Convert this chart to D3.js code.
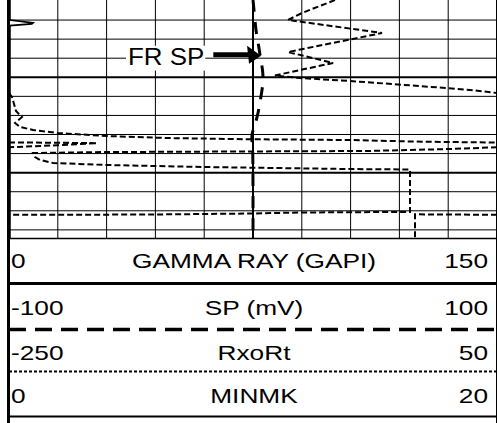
<!DOCTYPE html>
<html><head><meta charset="utf-8">
<script src="https://cdn.jsdelivr.net/npm/d3@7"></script>
<style>html,body{margin:0;padding:0;background:#fff;} svg{display:block}</style>
</head><body>
<svg id="chart" width="497" height="423"></svg>
<script>
// ---------------- data ----------------
const depthTop = 5002, depthBottom = 5026.9;
const minorDepths = [5004, 5006, 5008, 5012, 5014, 5016, 5018, 5022, 5024, 5026];
const majorDepths = [5010, 5020];
const gridCols = [1, 2, 3, 4, 6, 7, 8, 9];

// SP (mV), scale -100..100
const spDepth = [5001.90, 5002.95, 5005.04, 5006.62, 5007.98, 5009.24, 5010.29, 5011.33, 5012.59, 5013.75, 5014.79, 5016.05, 5017.63, 5026.95];
const spValue = [0.0, 0.41, 1.23, 2.25, 3.07, 3.89, 4.10, 3.69, 2.87, 2.05, 1.02, -0.41, -0.12, 0.0];

// GAMMA RAY (GAPI), scale 0..150
const grDepth = [5001.9, 5004.0, 5004.30, 5004.40, 5004.58, 5026.95];
const grValue = [0.3, 0.3, 7.4, 7.0, 0.3, 0.3];

// RxoRt, scale -250..50 (values beyond the scale wrap around, backup style)
const rxoDepth = [5001.90, 5003.26, 5003.99, 5005.36, 5007.35, 5008.50, 5009.81, 5010.08, 5010.39, 5010.92, 5011.33, 5011.65,
  5012.07, 5012.80, 5013.54, 5014.17, 5014.79, 5015.21, 5015.53, 5015.84, 5016.16, 5016.37, 5016.50, 5016.58, 5016.76, 5016.84,
  5016.86, 5016.91, 5017.13, 5017.34,
  5017.52, 5017.73, 5017.78, 5017.84, 5017.94, 5018.36, 5018.67, 5018.99, 5019.20, 5019.41, 5019.51, 5019.62, 5019.67, 5024.13,
  5024.13, 5024.18, 5024.29, 5024.39, 5024.42, 5024.42,
  5024.37, 5027.0];
const rxoValue = [-49.6, -69.9, -78.5, -20.7, -78.5, -50.8, -86.5, -71.1, -40.4, 2.7, 33.4, 50,
  51.8, 53.1, 54.3, 58.0, 53.7, 56.8, 64.8, 79.5, 110.2, 147.1, 198.2, 259.6, 304.5, 350,
  379.5, 404.1, 379.5, 350,
  321.1, 270.1, 192.0, 110.2, 64.8, 66.0, 69.1, 77.1, 110.2, 169.3, 212.3, 259.6, 296.5, 296.5,
  278.1, 228.9, 198.2, 136.7, 75.2, 50,
  -0.4, -0.4];

const headerNames = ["GAMMA RAY (GAPI)", "SP (mV)", "RxoRt", "MINMK"];
const headerLeft = ["0", "-100", "-250", "0"];
const headerRight = ["150", "100", "50", "20"];
const grDomain = [0, 150], spDomain = [-100, 100], rxoDomain = [-250, 50], mkDomain = [0, 20];

// ---------------- layout ----------------
const W = 497, H = 423;
const trackL = 9, trackR = 497, trackBottomY = 238.45;
const FONT = "'Liberation Sans', Arial, Helvetica, sans-serif";
const STRETCH = 1.25;

const svg = d3.select("#chart");
svg.append("rect").attr("width", W).attr("height", H).attr("fill", "#fff");

const y = d3.scaleLinear().domain([depthTop, depthBottom]).range([0.98, trackBottomY]);
const xGrid = d3.scaleLinear().domain([0, 10]).range([trackL, trackR]);
const xGR = d3.scaleLinear().domain(grDomain).range([trackL, trackR]);
const xSP = d3.scaleLinear().domain(spDomain).range([trackL, trackR]);
const xRxo = d3.scaleLinear().domain(rxoDomain).range([trackL, trackR]);

svg.append("clipPath").attr("id", "trk").append("rect")
  .attr("x", trackL).attr("y", 0).attr("width", trackR - trackL).attr("height", trackBottomY);

const grid = svg.append("g");
grid.selectAll("line.minh").data(minorDepths).join("line")
  .attr("x1", trackL).attr("x2", trackR).attr("y1", d => y(d)).attr("y2", d => y(d))
  .attr("stroke", "#000").attr("stroke-width", 1);
grid.selectAll("line.majh").data(majorDepths).join("line")
  .attr("x1", trackL).attr("x2", trackR).attr("y1", d => y(d)).attr("y2", d => y(d))
  .attr("stroke", "#000").attr("stroke-width", 2);
grid.selectAll("line.v").data(gridCols).join("line")
  .attr("x1", d => xGrid(d)).attr("x2", d => xGrid(d)).attr("y1", 0).attr("y2", trackBottomY)
  .attr("stroke", "#000").attr("stroke-width", 1);
grid.append("line").attr("x1", xGrid(5)).attr("x2", xGrid(5)).attr("y1", 0).attr("y2", trackBottomY)
  .attr("stroke", "#000").attr("stroke-width", 2);

const curves = svg.append("g").attr("clip-path", "url(#trk)");

// GR solid
curves.append("path")
  .attr("d", d3.line().x(d => xGR(d[1])).y(d => y(d[0]))(d3.zip(grDepth, grValue)))
  .attr("fill", "none").attr("stroke", "#000").attr("stroke-width", 1.6);

// SP long dashed
curves.append("path")
  .attr("d", d3.line().curve(d3.curveCatmullRom).x(d => xSP(d[1])).y(d => y(d[0]))(d3.zip(spDepth, spValue)))
  .attr("fill", "none").attr("stroke", "#000").attr("stroke-width", 3).attr("stroke-dasharray", "12,10");

// RxoRt wrapped short dashed
const span = rxoDomain[1] - rxoDomain[0];
const wrapOf = v => Math.floor((v - rxoDomain[0]) / span);
const pts = d3.zip(rxoDepth, rxoValue);
const segs = [];
let cur = [[pts[0][0], pts[0][1] - span * wrapOf(pts[0][1])]];
for (let i = 1; i < pts.length; i++) {
  const a = pts[i - 1], b = pts[i];
  const ka = wrapOf(a[1]), kb = wrapOf(b[1]);
  if (ka !== kb) {
    const step = kb > ka ? 1 : -1;
    let k = ka;
    while (k !== kb) {
      const bound = rxoDomain[0] + span * (k + (step > 0 ? 1 : 0));
      const t = (bound - a[1]) / (b[1] - a[1]);
      const dd = a[0] + t * (b[0] - a[0]);
      cur.push([dd, bound - span * k]);
      segs.push(cur);
      k += step;
      cur = [[dd, bound - span * k]];
    }
  }
  cur.push([b[0], b[1] - span * kb]);
}
segs.push(cur);
curves.selectAll("path.rxo").data(segs).join("path")
  .attr("d", d3.line().x(d => xRxo(d[1])).y(d => y(d[0])))
  .attr("fill", "none").attr("stroke", "#000").attr("stroke-width", 2).attr("stroke-dasharray", "6,3");

// FR SP annotation
const annDepth = 5007.8;
const LS = 1.08;
const ann = svg.append("g");
const lbl = ann.append("text").attr("transform", `translate(128,${y(annDepth) + 8.5}) scale(${LS},1)`)
  .attr("font-family", FONT).attr("font-size", 24).attr("fill", "#000").text("FR SP");
const bb = lbl.node().getBBox();
ann.insert("rect", "text").attr("x", 128 + bb.x * LS - 2).attr("y", y(annDepth) + 8.5 + bb.y + 3)
  .attr("width", bb.width * LS + 3).attr("height", bb.height - 2).attr("fill", "#fff");
const tipX = xSP(3.3), tipY = y(annDepth) - 1.5;
ann.append("line").attr("x1", bb.width * LS + 137).attr("x2", tipX - 10).attr("y1", tipY).attr("y2", tipY)
  .attr("stroke", "#000").attr("stroke-width", 5);
ann.append("path").attr("d", `M${tipX},${tipY + 1} L${tipX - 14},${tipY - 9} L${tipX - 12},${tipY + 9} Z`).attr("fill", "#000");

// borders
svg.append("line").attr("x1", trackL).attr("x2", trackR).attr("y1", trackBottomY).attr("y2", trackBottomY)
  .attr("stroke", "#000").attr("stroke-width", 1.5);
svg.append("line").attr("x1", 8.5).attr("x2", 8.5).attr("y1", 0).attr("y2", H).attr("stroke", "#000").attr("stroke-width", 3);
svg.append("line").attr("x1", 496.5).attr("x2", 496.5).attr("y1", 0).attr("y2", H).attr("stroke", "#000").attr("stroke-width", 1);

// header
const rowBase = [268, 315, 360, 403];
const rowLines = [
  {y: 283.5, w: 3, dash: null},
  {y: 329.5, w: 3.5, dash: "17,9"},
  {y: 371.5, w: 2, dash: "3,2"},
  {y: 416.5, w: 2, dash: null}
];
const hdr = svg.append("g");
function stretchedText(x, yy, txt, anchor) {
  hdr.append("text").attr("transform", `translate(${x},${yy}) scale(${STRETCH},1)`)
    .attr("text-anchor", anchor).attr("font-family", FONT).attr("font-size", 21).attr("fill", "#000").text(txt);
}
headerNames.forEach((name, i) => {
  stretchedText(11, rowBase[i], headerLeft[i], "start");
  stretchedText(254, rowBase[i], name, "middle");
  stretchedText(488, rowBase[i], headerRight[i], "end");
  const L = rowLines[i];
  const ln = hdr.append("line").attr("x1", trackL).attr("x2", trackR).attr("y1", L.y).attr("y2", L.y)
    .attr("stroke", "#000").attr("stroke-width", L.w);
  if (L.dash) ln.attr("stroke-dasharray", L.dash);
});
</script>
</body></html>
